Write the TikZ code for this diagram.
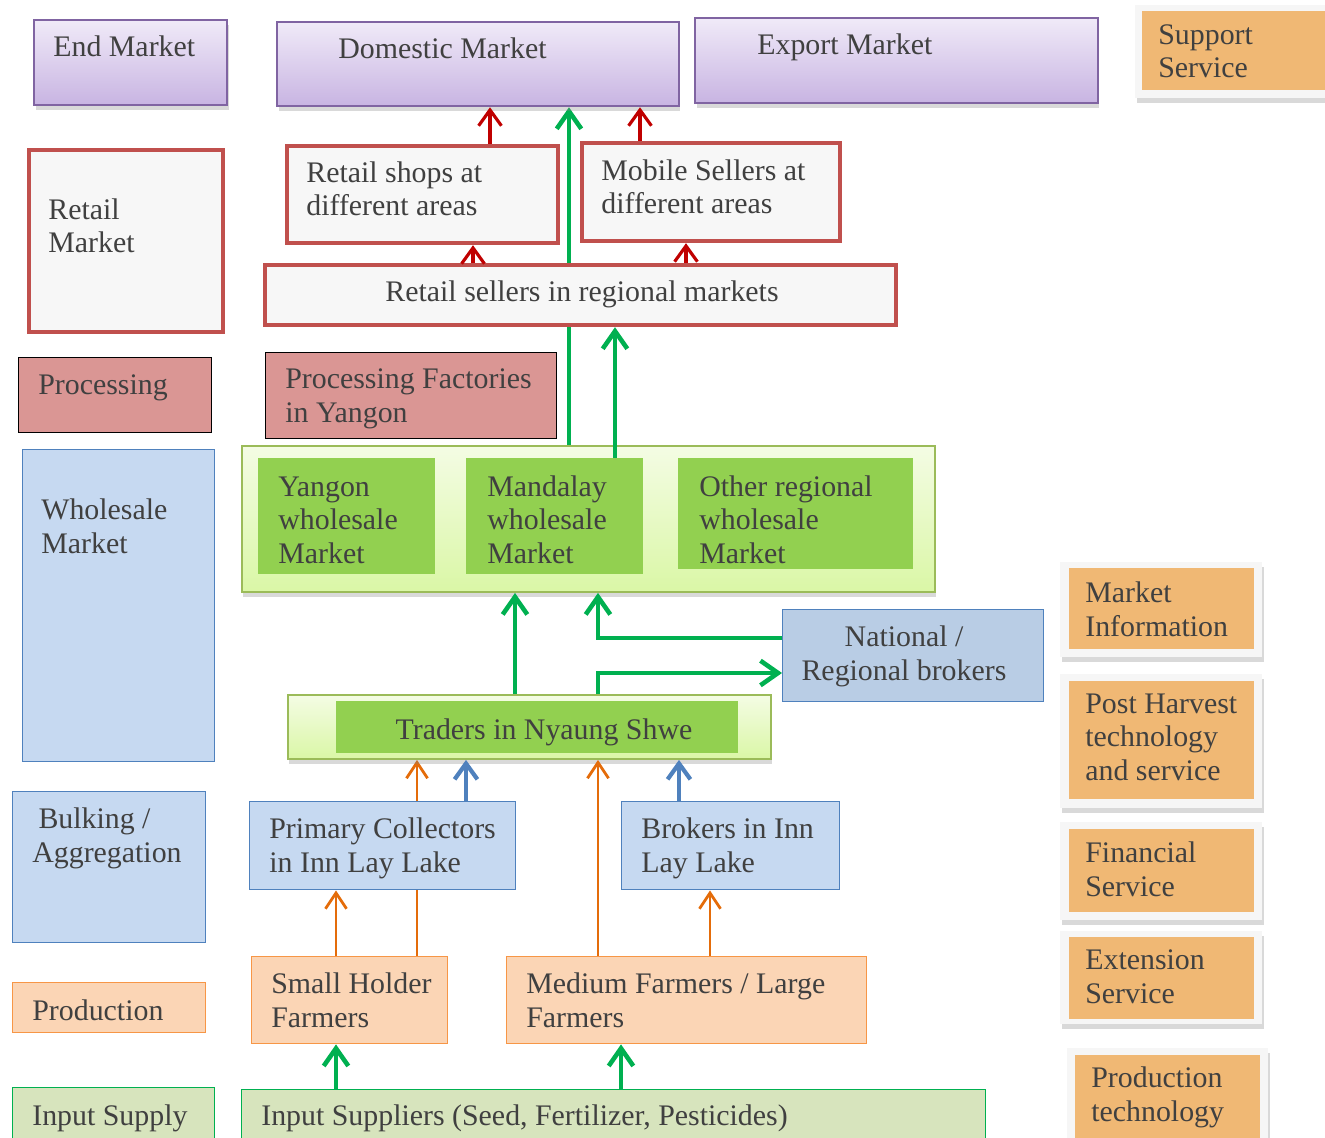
\documentclass[tikz,border=0pt]{standalone}
\usepackage{fontspec}
\setmainfont{Liberation Serif}
\usetikzlibrary{arrows.meta,shadows,backgrounds}

\definecolor{txtgray}{HTML}{404040}
\definecolor{endline}{HTML}{8064A2}
\definecolor{endtop}{HTML}{F0EAF8}
\definecolor{endbot}{HTML}{C8B4E2}
\definecolor{retline}{HTML}{C0504D}
\definecolor{retfill}{HTML}{F7F7F7}
\definecolor{procfill}{HTML}{DA9694}
\definecolor{blueline}{HTML}{4F81BD}
\definecolor{bluefill}{HTML}{C6D9F1}
\definecolor{natfill}{HTML}{B9CDE5}
\definecolor{grnline}{HTML}{9BBB59}
\definecolor{grntop}{HTML}{F4FCE4}
\definecolor{grnbot}{HTML}{DAF7A6}
\definecolor{grnfill}{HTML}{92D050}
\definecolor{suppfill}{HTML}{F0B874}
\definecolor{suppback}{HTML}{F6F6F6}
\definecolor{prodline}{HTML}{F79646}
\definecolor{prodfill}{HTML}{FBD5B5}
\definecolor{inline}{HTML}{00B050}
\definecolor{infill}{HTML}{D7E4BD}
\definecolor{redarr}{HTML}{C00000}
\definecolor{grnarr}{HTML}{00B050}
\definecolor{orgarr}{HTML}{E46C0A}
\definecolor{bluarr}{HTML}{4F81BD}

\begin{document}
\begin{tikzpicture}[x=0.02cm, y=-0.02cm,
        % Stili generali
        box/.style={inner sep=0, anchor=north west},
        shade/.style={drop shadow={shadow xshift=0.8pt, shadow yshift=-2.8pt, opacity=0.3}},
        endbox/.style={box, draw=endline, line width=1.3pt, top color=endtop, bottom color=endbot, shade},
        retbox/.style={box, draw=retline, line width=2.4pt, fill=retfill},
        procbox/.style={box, draw=black, line width=0.6pt, fill=procfill},
        bluebox/.style={box, draw=blueline, line width=0.8pt, fill=bluefill},
        grnbox/.style={box, draw=grnline, line width=1.1pt, top color=grntop, bottom color=grnbot, shade},
        grninner/.style={box, fill=grnfill},
        suppbox/.style={box, fill=suppback, shade},
        suppinner/.style={box, fill=suppfill},
        prodbox/.style={box, draw=prodline, line width=0.8pt, fill=prodfill},
        inbox/.style={box, draw=inline, line width=0.8pt, fill=infill},
        lbl/.style={font=\fontsize{17}{19}\selectfont, text=txtgray, align=left, anchor=base west, inner sep=0},
        rarrow/.style={draw=redarr, line width=1.8pt, -{Straight Barb[length=9pt,width=13pt]}},
        garrow/.style={draw=grnarr, line width=2.6pt, -{Straight Barb[length=10pt,width=14pt]}},
        oarrow/.style={draw=orgarr, line width=1.6pt, -{Straight Barb[length=9pt,width=12pt]}},
        barrow/.style={draw=bluarr, line width=2.4pt, -{Straight Barb[length=9pt,width=13pt]}}
    ]
    \useasboundingbox (0,0) rectangle (1325,1138);

    % 1. End market
    \node[endbox, minimum width=3.86cm, minimum height=1.70cm] (endm) at (33,19) {};
    \node[lbl] (endm-l) at (53,57) {End Market};
    \node[endbox, minimum width=8.04cm, minimum height=1.68cm] (dom) at (276,21) {};
    \node[lbl] (dom-l) at (338,59) {Domestic Market};
    \node[endbox, minimum width=8.06cm, minimum height=1.70cm] (exp) at (694,17) {};
    \node[lbl] (exp-l) at (757,55) {Export Market};

    % 2. Retail market
    \node[retbox, minimum width=3.88cm, minimum height=3.64cm] (retm) at (27,148) {};
    \node[lbl] (retm-l) at (48,253) {Retail\\Market};
    \node[retbox, minimum width=5.42cm, minimum height=1.94cm] (rshop) at (285,144) {};
    \node[lbl] (rshop-l) at (306,216) {Retail shops at\\different areas};
    \node[retbox, minimum width=5.16cm, minimum height=1.96cm] (mob) at (580,141) {};
    \node[lbl] (mob-l) at (601,214) {Mobile Sellers at\\different areas};
    \node[retbox, minimum width=12.62cm, minimum height=1.20cm] (rsel) at (263,263) {};
    \node[lbl, anchor=base] (rsel-l) at (582,302) {Retail sellers in regional markets};

    % 3. Processing
    \node[procbox, minimum width=3.86cm, minimum height=1.50cm] (proc) at (18,357) {};
    \node[lbl] (proc-l) at (38,395) {Processing};
    \node[procbox, minimum width=5.82cm, minimum height=1.72cm] (pfac) at (265,352) {};
    \node[lbl] (pfac-l) at (285,422) {Processing Factories\\in Yangon};

    % 4. Wholesale market
    \node[bluebox, minimum width=3.84cm, minimum height=6.24cm] (whm) at (22,449) {};
    \node[lbl] (whm-l) at (41,553) {Wholesale\\Market};
    \node[grnbox, minimum width=13.86cm, minimum height=2.92cm] (wbox) at (241,445) {};
    \node[grninner, minimum width=3.54cm, minimum height=2.32cm] (yan) at (258,458) {};
    \node[lbl] (yan-l) at (278,563) {Yangon\\wholesale\\Market};
    \node[grninner, minimum width=3.54cm, minimum height=2.32cm] (mand) at (466,458) {};
    \node[lbl] (mand-l) at (487,563) {Mandalay\\wholesale\\Market};
    \node[grninner, minimum width=4.70cm, minimum height=2.22cm] (oth) at (678,458) {};
    \node[lbl] (oth-l) at (699,563) {Other regional\\wholesale\\Market};
    \node[bluebox, fill=natfill, minimum width=5.22cm, minimum height=1.84cm] (nat) at (782,609) {};
    \node[lbl, anchor=base, align=center] (nat-l) at (904,680) {National /\\Regional brokers};
    \node[grnbox, minimum width=9.66cm, minimum height=1.28cm] (trbox) at (287,694) {};
    \node[grninner, minimum width=8.04cm, minimum height=1.04cm] (tr) at (336,701) {};
    \node[lbl, anchor=base] (tr-l) at (544,739) {Traders in Nyaung Shwe};

    % 5. Bulking / aggregation
    \node[bluebox, minimum width=3.86cm, minimum height=3.02cm] (bulk) at (12,791) {};
    \node[lbl] (bulk-l) at (32,862) {\hspace*{3.5pt}Bulking /\\Aggregation};
    \node[bluebox, minimum width=5.32cm, minimum height=1.76cm] (prim) at (249,801) {};
    \node[lbl] (prim-l) at (269,872) {Primary Collectors\\in Inn Lay Lake};
    \node[bluebox, minimum width=4.36cm, minimum height=1.76cm] (brok) at (621,801) {};
    \node[lbl] (brok-l) at (641,872) {Brokers in Inn\\Lay Lake};

    % 6. Production and input supply
    \node[prodbox, minimum width=3.86cm, minimum height=1.00cm] (prod) at (12,982) {};
    \node[lbl] (prod-l) at (32,1020) {Production};
    \node[prodbox, minimum width=3.92cm, minimum height=1.74cm] (small) at (251,956) {};
    \node[lbl] (small-l) at (271,1027) {Small Holder\\Farmers};
    \node[prodbox, minimum width=7.20cm, minimum height=1.74cm] (med) at (506,956) {};
    \node[lbl] (med-l) at (526,1027) {Medium Farmers / Large\\Farmers};
    \node[inbox, minimum width=4.04cm, minimum height=1.20cm] (insup) at (12,1087) {};
    \node[lbl] (insup-l) at (32,1125) {Input Supply};
    \node[inbox, minimum width=14.88cm, minimum height=1.20cm] (insp) at (241,1089) {};
    \node[lbl] (insp-l) at (261,1125) {Input Suppliers (Seed, Fertilizer, Pesticides)};

    % 7. Support services (colonna destra)
    \node[suppbox, minimum width=4.00cm, minimum height=1.86cm] (supp) at (1135,5) {};
    \node[suppinner, minimum width=3.90cm, minimum height=1.58cm] (supp-in) at (1142,11) {};
    \node[lbl] (supp-l) at (1158,78) {Support\\Service};
    \node[suppbox, minimum width=4.04cm, minimum height=1.90cm] (minf) at (1060,562) {};
    \node[suppinner, minimum width=3.70cm, minimum height=1.62cm] (minf-in) at (1069,568) {};
    \node[lbl] (minf-l) at (1085,636) {Market\\Information};
    \node[suppbox, minimum width=4.04cm, minimum height=2.68cm] (post) at (1060,674) {};
    \node[suppinner, minimum width=3.70cm, minimum height=2.36cm] (post-in) at (1069,681) {};
    \node[lbl] (post-l) at (1085,780) {Post Harvest\\technology\\and service};
    \node[suppbox, minimum width=4.04cm, minimum height=1.96cm] (fin) at (1060,822) {};
    \node[suppinner, minimum width=3.70cm, minimum height=1.66cm] (fin-in) at (1069,829) {};
    \node[lbl] (fin-l) at (1085,896) {Financial\\Service};
    \node[suppbox, minimum width=4.04cm, minimum height=1.86cm] (ext) at (1060,931) {};
    \node[suppinner, minimum width=3.70cm, minimum height=1.64cm] (ext-in) at (1069,937) {};
    \node[lbl] (ext-l) at (1085,1003) {Extension\\Service};
    \node[suppbox, minimum width=4.02cm, minimum height=1.94cm] (ptec) at (1067,1048) {};
    \node[suppinner, minimum width=3.70cm, minimum height=1.80cm] (ptec-in) at (1075,1055) {};
    \node[lbl] (ptec-l) at (1091,1121) {Production\\technology};

    % 8. Frecce rosse (retail)
    \draw[rarrow] (490,0 |- rshop.north) -- (490,0 |- dom.south);
    \draw[rarrow] (640,0 |- mob.north) -- (640,0 |- dom.south);
    \draw[rarrow] (473,0 |- rsel.north) -- (473,0 |- rshop.south);
    \draw[rarrow] (686,0 |- rsel.north) -- (686,0 |- mob.south);

    % 9. Frecce verdi
    \begin{scope}[on background layer]
        \draw[garrow] (569,0 |- mand.north) -- (569,0 |- dom.south);
        \draw[oarrow] (417,0 |- small.north) -- (417,0 |- trbox.south);
    \end{scope}
    \draw[garrow] (615,0 |- mand.north) -- (615,0 |- rsel.south);
    \draw[garrow] (515,0 |- trbox.north) -- (515,0 |- wbox.south);
    \draw[garrow] (nat.west |- 0,638) -| (598,0 |- wbox.south);
    \draw[garrow] (598,0 |- trbox.north) |- (nat.west |- 0,673);
    \draw[garrow] (336,0 |- insp.north) -- (336,0 |- small.south);
    \draw[garrow] (621,0 |- insp.north) -- (621,0 |- med.south);

    % 10. Frecce arancioni e blu
    \draw[oarrow] (336,0 |- small.north) -- (336,0 |- prim.south);
    \draw[oarrow] (598,0 |- med.north) -- (598,0 |- trbox.south);
    \draw[oarrow] (710,0 |- med.north) -- (710,0 |- brok.south);
    \draw[barrow] (466,0 |- prim.north) -- (466,0 |- trbox.south);
    \draw[barrow] (679,0 |- brok.north) -- (679,0 |- trbox.south);

\end{tikzpicture}
\end{document}
